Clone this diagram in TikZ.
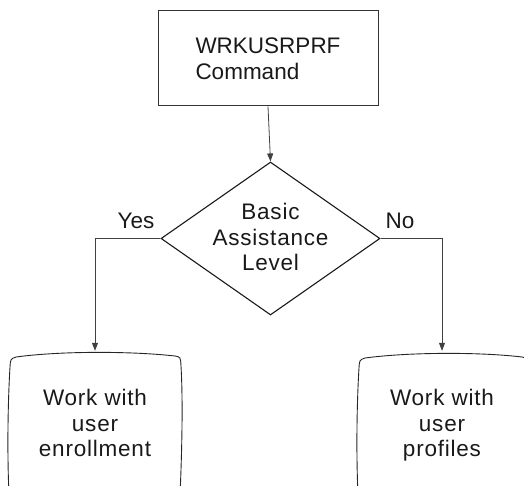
\documentclass[tikz,border=0pt]{standalone}
\usepackage{fontspec}
\setmainfont{Liberation Sans}
\newfontfamily\spaced{Liberation Sans}[LetterSpace=3.5]
\usetikzlibrary{shapes.geometric,arrows.meta}
\begin{document}
\begin{tikzpicture}[x=1pt,y=-1pt,
  txt/.style={font=\fontsize{22.5}{26}\selectfont, text=black!90},
  wide/.style={font=\spaced\fontsize{22.5}{25.5}\selectfont, text=black!90},
  cmdbox/.style={draw=black!80, line width=1pt, minimum width=220pt, minimum height=95pt, inner sep=0pt},
  decision/.style={diamond, draw=black!90, line width=1.1pt, minimum width=219pt, minimum height=153pt, inner sep=0pt},
  screen/.style={minimum width=174pt, minimum height=150pt, inner sep=0pt, wide, align=center},
  link/.style={draw=black!75, line width=0.8pt, -{Triangle[length=8pt,width=6pt]}},
  outline/.style={draw=black!85, line width=0.9pt},
  answer/.style={txt, inner sep=0pt}]
\useasboundingbox (0,0) rectangle (524,486);
\clip (0,0) rectangle (524,486);

% command box and its text
\node[cmdbox] (cmd) at (268,58.5) {};
\node[txt, align=left, inner sep=0pt] (cmdtext) at (268,61.5) {\strut WRKUSRPRF\\Command\strut};

% decision diamond and its text
\node[decision] (dec) at (270.5,238.5) {};
\node[wide, align=center, inner sep=0pt] (dectext) at (270.5,240) {\strut Basic\\Assistance\\Level\strut};

% outcome screens (text placed, outline drawn below)
\node[screen] (enroll) at (95,426) {\strut Work with\\user\\enrollment\strut};
\node[screen] (prof) at (442,426) {\strut Work with\\user\\profiles\strut};

% screen outlines with slightly bowed edges and rounded corners
\draw[outline] (9,495) .. controls (7,450) and (8,400) .. (10,367)
  .. controls (10.5,359) .. (16,357)
  .. controls (60,351) and (130,351) .. (175,356)
  .. controls (180.5,357) .. (181,366)
  .. controls (183,400) and (182,450) .. (180,495);
\draw[outline] (358,495) .. controls (356,450) and (357,400) .. (359,368)
  .. controls (359.5,360) .. (365,358)
  .. controls (410,352) and (480,352) .. (522,357)
  .. controls (527,358) .. (528,366)
  .. controls (530,400) and (529,450) .. (527,495);

% connectors
\draw[link] (cmd.south) -- (dec.north);
\draw[link] (dec.west) -| (enroll.north);
\draw[link] (dec.east) -| (prof.north);

% branch labels
\node[answer] (yes) at (136,221) {Yes};
\node[answer] (no) at (400,221) {No};
\end{tikzpicture}
\end{document}
